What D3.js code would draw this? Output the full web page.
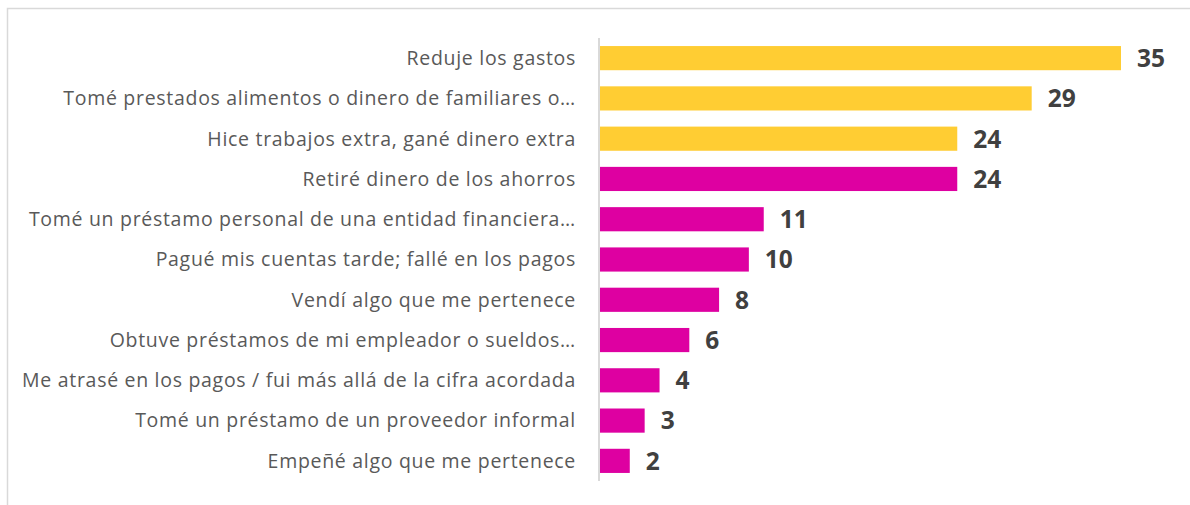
<!DOCTYPE html>
<html>
<head>
<meta charset="utf-8">
<script src="https://cdn.jsdelivr.net/npm/d3@7"></script>
<style>
  html, body { margin: 0; padding: 0; background: #fff; }
  svg { display: block; }
</style>
</head>
<body>
<svg id="chart" width="1190" height="505"></svg>
<script>
// Coping strategies, share of respondents (%)
const categories = [
  "Reduje los gastos",
  "Tomé prestados alimentos o dinero de familiares o…",
  "Hice trabajos extra, gané dinero extra",
  "Retiré dinero de los ahorros",
  "Tomé un préstamo personal de una entidad financiera…",
  "Pagué mis cuentas tarde; fallé en los pagos",
  "Vendí algo que me pertenece",
  "Obtuve préstamos de mi empleador o sueldos…",
  "Me atrasé en los pagos / fui más allá de la cifra acordada",
  "Tomé un préstamo de un proveedor informal",
  "Empeñé algo que me pertenece"
];
const values = [35, 29, 24, 24, 11, 10, 8, 6, 4, 3, 2];
const groups = ["top", "top", "top", "other", "other", "other", "other", "other", "other", "other", "other"];

const colorOf = d3.scaleOrdinal().domain(["top", "other"]).range(["#FFCD33", "#DE00A1"]);

const svg = d3.select("#chart");

// chart frame
svg.append("rect")
  .attr("x", 7.5).attr("y", 8.5)
  .attr("width", 1200).attr("height", 520)
  .attr("fill", "none").attr("stroke", "#d9d9d9").attr("stroke-width", 1.5);

const x0 = 600;
const x = d3.scaleLinear().domain([0, 35]).range([x0, 1121]);
const y = d3.scaleBand().domain(categories).range([38, 481]).paddingInner(0.4).paddingOuter(0.2);

const data = categories.map((c, i) => ({ c, v: values[i], g: groups[i] }));

svg.append("g").selectAll("rect").data(data).join("rect")
  .attr("x", x(0))
  .attr("y", d => y(d.c))
  .attr("width", d => x(d.v) - x(0))
  .attr("height", y.bandwidth())
  .attr("fill", d => colorOf(d.g));

// vertical category axis
svg.append("line")
  .attr("x1", x0 - 1).attr("x2", x0 - 1)
  .attr("y1", 38).attr("y2", 481)
  .attr("stroke", "#d9d9d9").attr("stroke-width", 2);

// category labels
svg.append("g").selectAll("text").data(data).join("text")
  .attr("x", 576)
  .attr("y", d => y(d.c) + y.bandwidth() / 2)
  .attr("dy", "0.35em")
  .attr("text-anchor", "end")
  .attr("font-family", "'Open Sans', sans-serif")
  .attr("font-size", 19.5)
  .attr("letter-spacing", 0.7)
  .attr("fill", "#595959")
  .text(d => d.c);

// value labels
svg.append("g").selectAll("text").data(data).join("text")
  .attr("x", d => x(d.v) + 16)
  .attr("y", d => y(d.c) + y.bandwidth() / 2)
  .attr("dy", "0.36em")
  .attr("font-family", "'Open Sans', sans-serif")
  .attr("font-weight", "bold")
  .attr("font-size", 24.5)
  .attr("fill", "#404040")
  .text(d => d.v);
</script>
</body>
</html>
